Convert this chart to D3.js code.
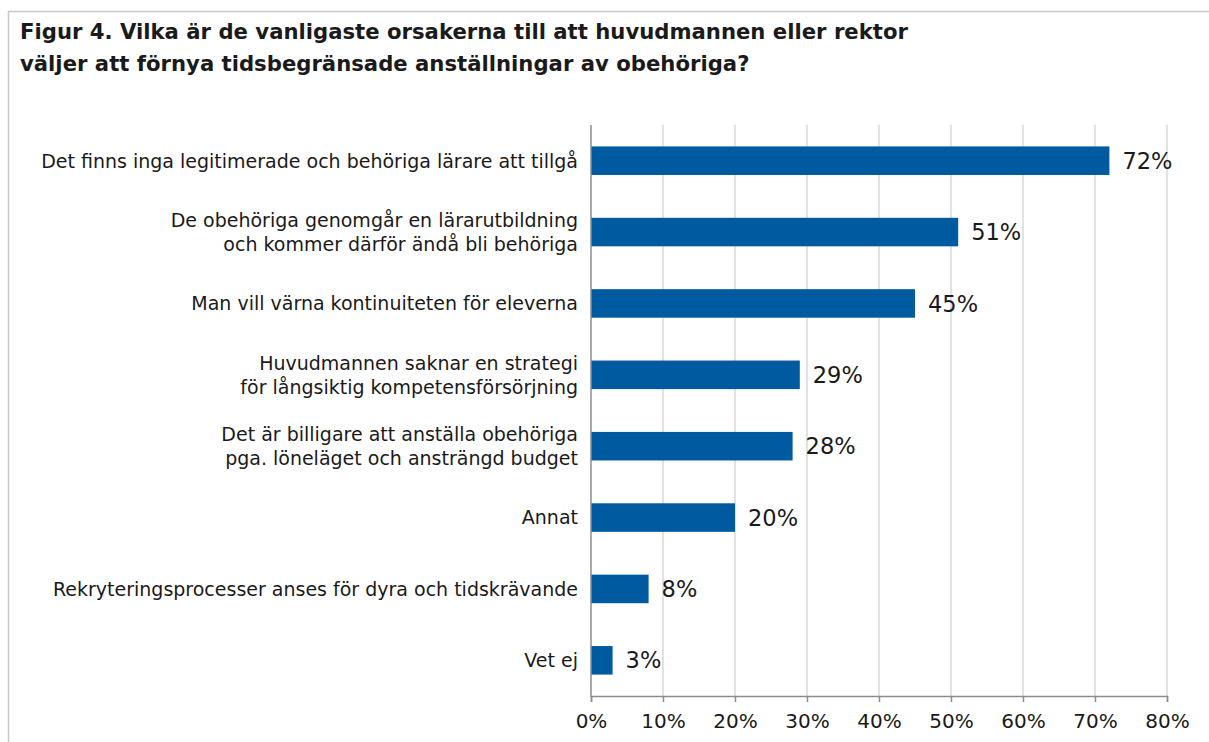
<!DOCTYPE html>
<html><head><meta charset="utf-8">
<script src="https://cdn.jsdelivr.net/npm/d3@7/dist/d3.min.js"></script>
<style>body{margin:0;background:#fff}svg{display:block}</style>
</head><body>
<svg id="c" width="1209" height="742"></svg>
<script>
const titleLines = ["Figur 4. Vilka är de vanligaste orsakerna till att huvudmannen eller rektor",
                    "väljer att förnya tidsbegränsade anställningar av obehöriga?"];
const categories = [
  ["Det finns inga legitimerade och behöriga lärare att tillgå"],
  ["De obehöriga genomgår en lärarutbildning", "och kommer därför ändå bli behöriga"],
  ["Man vill värna kontinuiteten för eleverna"],
  ["Huvudmannen saknar en strategi", "för långsiktig kompetensförsörjning"],
  ["Det är billigare att anställa obehöriga", "pga. löneläget och ansträngd budget"],
  ["Annat"],
  ["Rekryteringsprocesser anses för dyra och tidskrävande"],
  ["Vet ej"]
];
const values = [72, 51, 45, 29, 28, 20, 8, 3];
const ticks = [0, 10, 20, 30, 40, 50, 60, 70, 80];

const svg = d3.select("#c");
const font = "'DejaVu Sans', sans-serif";

// frame
svg.append("path").attr("d", "M8.5,742 V11.5 H1209").attr("fill", "none").attr("stroke", "#c8c8c8").attr("stroke-width", 1.5);

// title
svg.append("g").selectAll("text").data(titleLines).join("text")
  .attr("x", 20).attr("y", (d, i) => 39 + i * 31.5)
  .attr("font-family", "'DejaVu Sans', sans-serif").attr("font-weight", "bold")
  .attr("font-size", 21.2).attr("fill", "#1a1a1a").text(d => d);

const x = d3.scaleLinear().domain([0, 80]).range([591, 1167]);
const y = d3.scaleBand().domain(d3.range(categories.length)).range([125, 696]).paddingInner(0.6).paddingOuter(0.3);

// gridlines
svg.append("g").selectAll("line").data(ticks.slice(1)).join("line")
  .attr("x1", d => x(d)).attr("x2", d => x(d)).attr("y1", 125).attr("y2", 696)
  .attr("stroke", "#d9d9d9").attr("stroke-width", 1.5);

// bars
svg.append("g").selectAll("rect").data(values).join("rect")
  .attr("x", x(0)).attr("y", (d, i) => y(i)).attr("width", d => x(d) - x(0))
  .attr("height", y.bandwidth()).attr("fill", "#005AA0");

// value labels
svg.append("g").selectAll("text").data(values).join("text")
  .attr("x", d => x(d) + 13).attr("y", (d, i) => y(i) + y.bandwidth() / 2).attr("dy", "0.36em")
  .attr("font-family", font).attr("font-size", 22.5).attr("fill", "#1a1a1a").text(d => d + "%");

// x axis
const xAxis = d3.axisBottom(x).tickValues(ticks).tickFormat(d => d + "%").tickSize(6).tickPadding(12);
const ga = svg.append("g").attr("transform", "translate(0,696)").call(xAxis);
ga.select(".domain").attr("stroke", "#8c8c8c").attr("stroke-width", 1.5);
ga.selectAll(".tick line").attr("stroke", "#8c8c8c").attr("stroke-width", 1.5);
ga.selectAll(".tick text").attr("font-family", font).attr("font-size", 20).attr("fill", "#1a1a1a");

// y axis line
svg.append("line").attr("x1", x(0)).attr("x2", x(0)).attr("y1", 125).attr("y2", 697)
  .attr("stroke", "#8c8c8c").attr("stroke-width", 1.5);

// category labels
const cg = svg.append("g");
categories.forEach((lines, i) => {
  const cy = y(i) + y.bandwidth() / 2;
  const lh = 24;
  lines.forEach((t, j) => {
    cg.append("text").attr("x", 578).attr("y", cy + (j - (lines.length - 1) / 2) * lh)
      .attr("dy", "0.36em").attr("text-anchor", "end")
      .attr("font-family", font).attr("font-size", 19).attr("fill", "#1a1a1a").text(t);
  });
});
</script>
</body></html>
